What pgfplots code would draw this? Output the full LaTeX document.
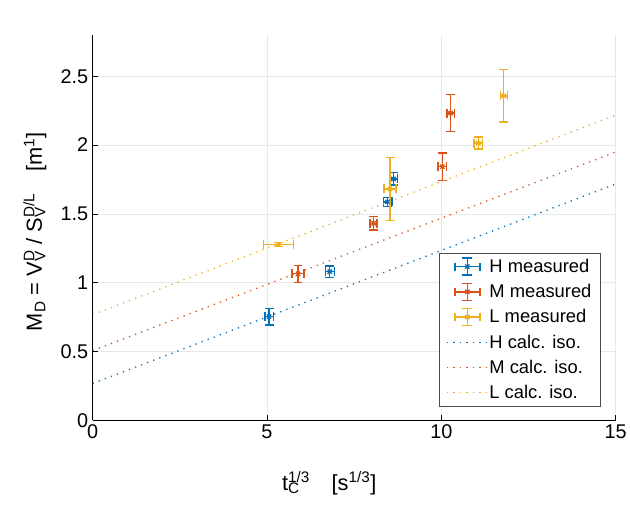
\documentclass[border=0pt]{standalone}
\usepackage{pgfplots}
\pgfplotsset{compat=1.18}
\usepackage{fontspec}
\setmainfont{Liberation Sans}
\definecolor{mblue}{rgb}{0,0.447,0.741}
\definecolor{mred}{rgb}{0.85,0.325,0.098}
\definecolor{myel}{rgb}{0.929,0.694,0.125}
\newcommand\supsub[2]{\setbox0=\hbox{\textsuperscript{#1}}\setbox2=\hbox{\textsubscript{#2}}\ifdim\wd0>\wd2 \rlap{\box2}\box0 \else \rlap{\box0}\box2 \fi}
\begin{document}
\begin{tikzpicture}
\pgfplotsset{
  meas/.style={
    color=#1, only marks, mark=x, mark size=3bp, line width=1.4bp,
    legend image code/.code={
      \draw[##1, mark=none, solid] (8bp,0bp) -- (33bp,0bp)
        (8bp,-4bp)--(8bp,4bp) (33bp,-4bp)--(33bp,4bp)
        (20.5bp,-8.5bp)--(20.5bp,8.5bp)
        (15.5bp,8.5bp)--(25.5bp,8.5bp) (15.5bp,-8.5bp)--(25.5bp,-8.5bp);
      \draw[##1] plot[only marks, mark=x, mark size=3bp] coordinates {(20.5bp,0bp)};
    },
    error bars/.cd, x dir=both, x explicit, y dir=both, y explicit,
    error bar style={line width=1.4bp, color=#1},
    error mark options={rotate=90, mark size=4.5bp, line width=1.4bp, color=#1},
    /pgfplots/.cd,
  },
  calc/.style={color=#1, line width=1.3bp, dash pattern=on 1.3bp off 5.2bp, mark=none,
    legend image code/.code={\draw[##1] (0bp,0bp) -- (40bp,0bp);}},
}
\begin{axis}[
  name=ax,
  scale only axis, width=525bp, height=387bp,
  xmin=0, xmax=15, ymin=0, ymax=2.8,
  xtick={0,5,10,15}, ytick={0,0.5,1,1.5,2,2.5},
  yticklabels={0,0.5,1,1.5,2,2.5},
  axis x line*=bottom, axis y line*=left,
  axis line style={black, line width=0.6bp, -},
  tick style={black, line width=0.6bp},
  tick align=inside, major tick length=5bp,
  grid=major, major grid style={gray!18, line width=0.6bp},
  ticklabel style={font=\fontsize{20}{24}\selectfont},
  xticklabel style={yshift=-1bp},
  yticklabel style={xshift=-1bp},
  /pgf/number format/assume math mode=true,
  xlabel={t\supsub{1/3}{C}\quad[s\textsuperscript{1/3}]},
  ylabel={M\textsubscript{D} = V\supsub{D}{V} / S\supsub{D/L}{V}\quad[m\textsuperscript{1}]},
  label style={font=\fontsize{22}{26}\selectfont},
  xlabel style={at={(axis description cs:0.5,0)}, anchor=base, yshift=-70bp, xshift=-25bp},
  ylabel style={at={(axis description cs:0,0.5)}, anchor=base, yshift=51bp, xshift=-4bp},
  legend cell align=left,
  legend style={at={(rel axis cs:1,0)}, anchor=south east, xshift=-15bp, yshift=14bp,
    draw=black!70, line width=0.6bp, font=\fontsize{18.5}{21}\selectfont,
    row sep=6.5bp, inner xsep=7bp, inner ysep=4bp},
]
\addplot[meas=mblue] coordinates {
  (5.06,0.754) +- (0.12,0.06)
  (6.80,1.080) +- (0.13,0.04)
  (8.46,1.587) +- (0.12,0.033)
  (8.63,1.754) +- (0.12,0.045)
};
\addlegendentry{H measured}
\addplot[meas=mred] coordinates {
  (5.89,1.065) +- (0.17,0.062)
  (8.06,1.432) +- (0.10,0.048)
  (10.03,1.843) +- (0.12,0.10)
  (10.27,2.232) +- (0.11,0.134)
};
\addlegendentry{M measured}
\addplot[meas=myel] coordinates {
  (5.33,1.278) +- (0.43,0.015)
  (8.53,1.681) +- (0.17,0.228)
  (11.06,2.014) +- (0.12,0.043)
  (11.79,2.357) +- (0.10,0.19)
};
\addlegendentry{L measured}
\addplot[calc=mblue] coordinates {(0,0.268) (15,1.717)};
\addlegendentry{H calc. iso.}
\addplot[calc=mred] coordinates {(0,0.507) (15,1.949)};
\addlegendentry{M calc. iso.}
\addplot[calc=myel] coordinates {(0,0.768) (15,2.217)};
\addlegendentry{L calc. iso.}
\node[anchor=base west, inner sep=0pt, font=\fontsize{20}{24}\selectfont, xshift=3bp, yshift=5bp]
  at (rel axis cs:0,1) {\texttimes10\textsuperscript{-5}};
\end{axis}
\path[use as bounding box] ([xshift=-93bp,yshift=-84bp]ax.south west) rectangle ([xshift=12bp,yshift=35bp]ax.north east);
\end{tikzpicture}
\end{document}
